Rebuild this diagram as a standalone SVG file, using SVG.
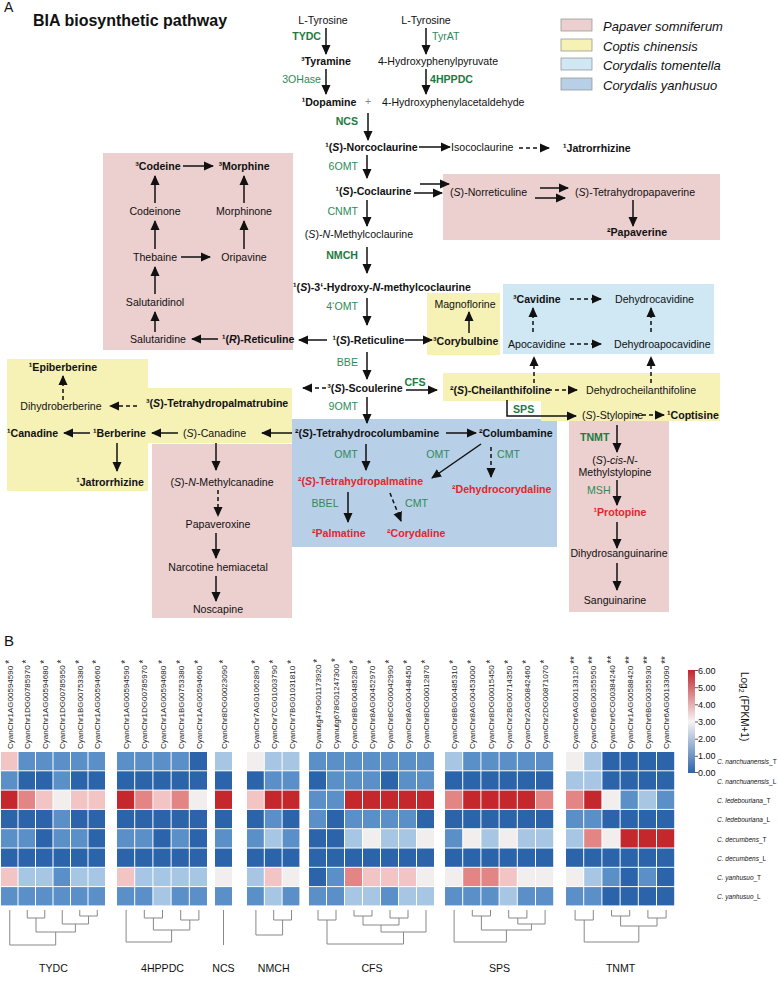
<svg xmlns="http://www.w3.org/2000/svg" width="778" height="982" viewBox="0 0 778 982">
<defs>
<marker id="ah" viewBox="0 0 10 10" refX="9" refY="5" markerWidth="10" markerHeight="10" markerUnits="userSpaceOnUse" orient="auto"><path d="M0,0.5 L10,5 L0,9.5 z" fill="#111"/></marker>
<linearGradient id="cb" x1="0" y1="0" x2="0" y2="1">
<stop offset="0" stop-color="#c0262b"/><stop offset="0.5" stop-color="#f7f4f4"/><stop offset="1" stop-color="#2c64ab"/>
</linearGradient>
<style>
text{font-family:'Liberation Sans',Arial,sans-serif;font-size:10.6px;fill:#111}
.b{font-weight:bold}
.g{fill:#2e8b57}
.gb{fill:#1e7a40;font-weight:bold}
.r{fill:#e3262b;font-weight:bold}
.i{font-style:italic}
.m{text-anchor:middle}
.e{text-anchor:end}
.ln{stroke:#111;stroke-width:1.5;fill:none}
.a{marker-end:url(#ah)}
.d{stroke-dasharray:4,3}
.pk{fill:#eccfcf}
.yl{fill:#f6f2b6}
.lb{fill:#cfe8f4}
.bl{fill:#b7cfe7}
.leg{font-size:13px;font-style:italic}
.gl{font-size:8px;fill:#222}
.st{font-size:10px}
.rl{font-size:6.5px}
.cl{font-size:9px}
.h0{fill:#2c64ab}.h1{fill:#5a8fc7}.h2{fill:#a7c6e3}.h3{fill:#f3eeee}.h4{fill:#f2c4c4}.h5{fill:#e38585}.h6{fill:#c4282c}
.dg{stroke:#888;stroke-width:1;fill:none}
</style>
</defs>
<rect width="778" height="982" fill="#fff"/>

<g id="regions">
<rect class="pk" x="103" y="153" width="190" height="197"/>
<rect class="pk" x="443" y="174" width="277" height="66"/>
<rect class="yl" x="427" y="293" width="73" height="62"/>
<rect class="lb" x="503" y="284" width="211" height="70"/>
<rect class="yl" x="7" y="359" width="141" height="132"/>
<rect class="yl" x="148" y="388" width="144" height="55"/>
<rect class="pk" x="152" y="444" width="140" height="174"/>
<rect class="bl" x="292" y="419" width="265" height="128"/>
<rect class="yl" x="443" y="373" width="277" height="28"/>
<rect class="yl" x="541" y="401" width="179" height="20"/>
<rect class="pk" x="569" y="421" width="100" height="191"/>
</g>

<g id="title">
<text x="4" y="12" style="font-size:14px">A</text>
<text x="33" y="26" class="b" style="font-size:16px">BIA biosynthetic pathway</text>
</g>

<g id="legend">
<rect class="pk" x="561" y="19" width="31" height="12" stroke="#999" stroke-width="0.8"/>
<rect class="yl" x="561" y="39" width="31" height="12" stroke="#999" stroke-width="0.8"/>
<rect class="lb" x="561" y="58" width="31" height="12" stroke="#999" stroke-width="0.8"/>
<rect class="bl" x="561" y="78" width="31" height="12" stroke="#999" stroke-width="0.8"/>
<text class="leg" x="603" y="31">Papaver somniferum</text>
<text class="leg" x="603" y="51">Coptis chinensis</text>
<text class="leg" x="603" y="70">Corydalis tomentella</text>
<text class="leg" x="603" y="90">Corydalis yanhusuo</text>
</g>

<g id="connectors">
<path class="ln a" d="M326,28 V54"/>
<path class="ln a" d="M426,28 V54"/>
<path class="ln a" d="M326,69 V94"/>
<path class="ln a" d="M426,69 V94"/>
<path class="ln a" d="M368,113 V140"/>
<path class="ln a" d="M419,147 H450"/>
<path class="ln a d" d="M519,148 H549"/>
<path class="ln a" d="M367,155 V178"/>
<path class="ln a" d="M420,184 H449"/>
<path class="ln a" d="M414,193 H442"/>
<path class="ln a" d="M540,188 H568"/>
<path class="ln a" d="M535,198 H565"/>
<path class="ln a" d="M633,200 V226"/>
<path class="ln a" d="M367,200 V226"/>
<path class="ln a" d="M367,247 V273"/>
<path class="ln a" d="M367,298 V325"/>
<path class="ln a" d="M183,166 H213"/>
<path class="ln a" d="M155,203 V176"/>
<path class="ln a" d="M244,203 V176"/>
<path class="ln a" d="M155,249 V221"/>
<path class="ln a" d="M244,249 V221"/>
<path class="ln a" d="M181,257 H210"/>
<path class="ln a" d="M155,294 V267"/>
<path class="ln a" d="M155,332 V312"/>
<path class="ln a" d="M218,339 H192"/>
<path class="ln a" d="M327,340 H299"/>
<path class="ln a" d="M405,340 H432"/>
<path class="ln a" d="M469,333 V312"/>
<path class="ln a d" d="M570,299 H601"/>
<path class="ln a d" d="M570,344 H601"/>
<path class="ln a d" d="M533,332 V308"/>
<path class="ln a d" d="M651,332 V308"/>
<path class="ln a d" d="M534,383 V357"/>
<path class="ln a d" d="M651,383 V357"/>
<path class="ln a" d="M367,352 V379"/>
<path class="ln a d" d="M326,388 H303"/>
<path class="ln a" d="M406,390 H437"/>
<path class="ln a d" d="M548,390 H577"/>
<path class="ln a" d="M507,400 V416 H576"/>
<path class="ln a d" d="M635,415 H664"/>
<path class="ln a" d="M367,397 V423"/>
<path class="ln a d" d="M137,406 H110"/>
<path class="ln a d" d="M63,400 V376"/>
<path class="ln a" d="M90,433 H64"/>
<path class="ln a" d="M178,433 H152"/>
<path class="ln a" d="M292,433 H262"/>
<path class="ln a" d="M117,443 V471"/>
<path class="ln a" d="M216,443 V470"/>
<path class="ln a d" d="M218,490 V516"/>
<path class="ln a" d="M216,533 V558"/>
<path class="ln a" d="M216,576 V601"/>
<path class="ln a" d="M446,433 H476"/>
<path class="ln a" d="M366,444 V470"/>
<path class="ln a" d="M481,444 L432,478"/>
<path class="ln a d" d="M491,447 V477"/>
<path class="ln a" d="M348,492 V522"/>
<path class="ln a d" d="M390,493 L401,521"/>
<path class="ln a" d="M617,425 V452"/>
<path class="ln a" d="M617,480 V505"/>
<path class="ln a" d="M617,522 V548"/>
<path class="ln a" d="M617,563 V590"/>
</g>

<g id="n_tyr1"><text class="m" x="323" y="24">L-Tyrosine</text></g>
<g id="n_tyr2"><text class="m" x="426" y="24">L-Tyrosine</text></g>
<g id="e_tydc"><text class="gb e" x="321" y="40">TYDC</text></g>
<g id="e_tyrat"><text class="g" x="432" y="40">TyrAT</text></g>
<g id="n_tyramine"><text class="b m" x="326" y="65">³Tyramine</text></g>
<g id="n_hpp"><text class="m" x="438" y="65">4-Hydroxyphenylpyruvate</text></g>
<g id="e_3ohase"><text class="g e" x="321" y="83">3OHase</text></g>
<g id="e_4hppdc"><text class="gb" x="430" y="83">4HPPDC</text></g>
<g id="n_dopamine"><text class="b m" x="329" y="106">¹Dopamine</text></g>
<g id="plus"><text class="m" x="368" y="105" style="fill:#888">+</text></g>
<g id="n_hpaa"><text x="382" y="106">4-Hydroxyphenylacetaldehyde</text></g>
<g id="e_ncs"><text class="gb e" x="358" y="125">NCS</text></g>
<g id="n_norcoc"><text class="b m" x="371.5" y="151">¹(<tspan class="i">S</tspan>)-Norcoclaurine</text></g>
<g id="n_isococ"><text x="451" y="151">Isococlaurine</text></g>
<g id="n_jat1"><text class="b" x="563" y="152">¹Jatrorrhizine</text></g>
<g id="e_6omt"><text class="g e" x="358" y="170">6OMT</text></g>
<g id="n_coc"><text class="b m" x="373.5" y="195">¹(<tspan class="i">S</tspan>)-Coclaurine</text></g>
<g id="e_cnmt"><text class="g e" x="358" y="215">CNMT</text></g>
<g id="n_nmc"><text class="m" x="359" y="238">(<tspan class="i">S</tspan>)-<tspan class="i">N</tspan>-Methylcoclaurine</text></g>
<g id="e_nmch"><text class="gb e" x="358" y="259">NMCH</text></g>
<g id="n_hydroxy"><text class="b m" x="382" y="291">¹(<tspan class="i">S</tspan>)-3‘-Hydroxy-<tspan class="i">N</tspan>-methylcoclaurine</text></g>
<g id="e_4omt"><text class="g e" x="358" y="310">4‘OMT</text></g>
<g id="n_sret"><text class="b m" x="368.5" y="344">¹(<tspan class="i">S</tspan>)-Reticuline</text></g>
<g id="e_bbe"><text class="g e" x="358" y="366">BBE</text></g>
<g id="n_scoul"><text class="b m" x="365" y="392">³(<tspan class="i">S</tspan>)-Scoulerine</text></g>
<g id="e_cfs"><text class="gb m" x="415" y="386">CFS</text></g>
<g id="e_9omt"><text class="g e" x="358" y="410">9OMT</text></g>
<g id="n_thc"><text class="b" x="295" y="437">²(<tspan class="i">S</tspan>)-Tetrahydrocolumbamine</text></g>
<g id="n_colum"><text class="b" x="479" y="437">²Columbamine</text></g>
<g id="e_omt1"><text class="g m" x="346" y="458">OMT</text></g>
<g id="e_omt2"><text class="g m" x="438" y="458">OMT</text></g>
<g id="e_cmt1"><text class="g" x="497" y="458">CMT</text></g>
<g id="n_thp"><text class="r" x="298" y="485">²(<tspan class="i">S</tspan>)-Tetrahydropalmatine</text></g>
<g id="n_dhc"><text class="r" x="452" y="493">²Dehydrocorydaline</text></g>
<g id="e_bbel"><text class="g m" x="325" y="507">BBEL</text></g>
<g id="e_cmt2"><text class="g" x="405" y="507">CMT</text></g>
<g id="n_palm"><text class="r" x="312" y="537">²Palmatine</text></g>
<g id="n_cory"><text class="r" x="387" y="537">²Corydaline</text></g>

<g id="n_codeine"><text class="b m" x="158" y="170">³Codeine</text></g>
<g id="n_morphine"><text class="b m" x="244" y="170">³Morphine</text></g>
<g id="n_codeinone"><text class="m" x="155" y="215">Codeinone</text></g>
<g id="n_morphinone"><text class="m" x="244" y="215">Morphinone</text></g>
<g id="n_thebaine"><text class="m" x="155" y="261">Thebaine</text></g>
<g id="n_oripavine"><text class="m" x="244" y="261">Oripavine</text></g>
<g id="n_salutaridinol"><text class="m" x="155" y="306">Salutaridinol</text></g>
<g id="n_salutaridine"><text class="m" x="158" y="343">Salutaridine</text></g>
<g id="n_rret"><text class="b" x="222" y="343">¹(<tspan class="i">R</tspan>)-Reticuline</text></g>

<g id="n_norret"><text x="450" y="196">(<tspan class="i">S</tspan>)-Norreticuline</text></g>
<g id="n_thpap"><text x="575" y="196">(<tspan class="i">S</tspan>)-Tetrahydropapaverine</text></g>
<g id="n_papav"><text class="b" x="607" y="236">²Papaverine</text></g>

<g id="n_magno"><text class="m" x="465" y="308">Magnoflorine</text></g>
<g id="n_corybul"><text class="b" x="433" y="345">³Corybulbine</text></g>
<g id="n_cavidine"><text class="b" x="513" y="303">³Cavidine</text></g>
<g id="n_dhcav"><text x="615" y="303">Dehydrocavidine</text></g>
<g id="n_apocav"><text x="508" y="348">Apocavidine</text></g>
<g id="n_dhapocav"><text x="614" y="348">Dehydroapocavidine</text></g>

<g id="n_cheil"><text class="b" x="450" y="394">²(<tspan class="i">S</tspan>)-Cheilanthifoline</text></g>
<g id="n_dhcheil"><text x="586" y="394">Dehydrocheilanthifoline</text></g>
<g id="e_sps"><text class="gb" x="513" y="413">SPS</text></g>
<g id="n_stylo"><text x="582" y="419">(<tspan class="i">S</tspan>)-Stylopine</text></g>
<g id="n_coptis"><text class="b" x="667" y="419">¹Coptisine</text></g>

<g id="e_tnmt"><text class="gb" x="580" y="441">TNMT</text></g>
<g id="n_cisnms"><text class="m" x="615" y="464">(<tspan class="i">S</tspan>)-<tspan class="i">cis</tspan>-<tspan class="i">N</tspan>-</text><text class="m" x="615" y="476">Methylstylopine</text></g>
<g id="e_msh"><text class="g" x="587" y="494">MSH</text></g>
<g id="n_protopine"><text class="r m" x="620" y="516">¹Protopine</text></g>
<g id="n_dhsang"><text class="m" x="619" y="557">Dihydrosanguinarine</text></g>
<g id="n_sang"><text class="m" x="615" y="604">Sanguinarine</text></g>

<g id="n_epib"><text class="b m" x="63" y="371">¹Epiberberine</text></g>
<g id="n_dhberb"><text class="m" x="61" y="410">Dihydroberberine</text></g>
<g id="n_thpr"><text class="b" x="146" y="407">³(<tspan class="i">S</tspan>)-Tetrahydropalmatrubine</text></g>
<g id="n_canadine1"><text class="b" x="7" y="437">¹Canadine</text></g>
<g id="n_berb"><text class="b" x="93" y="437">¹Berberine</text></g>
<g id="n_scan"><text x="183" y="437">(<tspan class="i">S</tspan>)-Canadine</text></g>
<g id="n_jat2"><text class="b m" x="110" y="486">¹Jatrorrhizine</text></g>
<g id="n_nmcan"><text class="m" x="222" y="486">(<tspan class="i">S</tspan>)-<tspan class="i">N</tspan>-Methylcanadine</text></g>
<g id="n_papox"><text class="m" x="218" y="528">Papaveroxine</text></g>
<g id="n_narc"><text class="m" x="218" y="571">Narcotine hemiacetal</text></g>
<g id="n_nosc"><text class="m" x="218" y="613">Noscapine</text></g>

<g id="panelB">
<text x="4" y="646" style="font-size:15px">B</text>
<g id="heatmap">
<g transform="translate(1,752)"><rect class="h4" y="0" width="16.5" height="18.3"/><rect class="h1" y="19.3" width="16.5" height="18.3"/><rect class="h6" y="38.6" width="16.5" height="18.3"/><rect class="h0" y="57.9" width="16.5" height="18.3"/><rect class="h1" y="77.2" width="16.5" height="18.3"/><rect class="h0" y="96.5" width="16.5" height="18.3"/><rect class="h4" y="115.8" width="16.5" height="18.3"/><rect class="h1" y="135.1" width="16.5" height="18.3"/></g>
<g transform="translate(18.5,752)"><rect class="h1" y="0" width="16.5" height="18.3"/><rect class="h0" y="19.3" width="16.5" height="18.3"/><rect class="h5" y="38.6" width="16.5" height="18.3"/><rect class="h0" y="57.9" width="16.5" height="18.3"/><rect class="h1" y="77.2" width="16.5" height="18.3"/><rect class="h0" y="96.5" width="16.5" height="18.3"/><rect class="h2" y="115.8" width="16.5" height="18.3"/><rect class="h1" y="135.1" width="16.5" height="18.3"/></g>
<g transform="translate(36,752)"><rect class="h1" y="0" width="16.5" height="18.3"/><rect class="h0" y="19.3" width="16.5" height="18.3"/><rect class="h4" y="38.6" width="16.5" height="18.3"/><rect class="h0" y="57.9" width="16.5" height="18.3"/><rect class="h0" y="77.2" width="16.5" height="18.3"/><rect class="h0" y="96.5" width="16.5" height="18.3"/><rect class="h2" y="115.8" width="16.5" height="18.3"/><rect class="h1" y="135.1" width="16.5" height="18.3"/></g>
<g transform="translate(53.5,752)"><rect class="h1" y="0" width="16.5" height="18.3"/><rect class="h1" y="19.3" width="16.5" height="18.3"/><rect class="h3" y="38.6" width="16.5" height="18.3"/><rect class="h1" y="57.9" width="16.5" height="18.3"/><rect class="h1" y="77.2" width="16.5" height="18.3"/><rect class="h0" y="96.5" width="16.5" height="18.3"/><rect class="h1" y="115.8" width="16.5" height="18.3"/><rect class="h1" y="135.1" width="16.5" height="18.3"/></g>
<g transform="translate(71,752)"><rect class="h1" y="0" width="16.5" height="18.3"/><rect class="h0" y="19.3" width="16.5" height="18.3"/><rect class="h4" y="38.6" width="16.5" height="18.3"/><rect class="h0" y="57.9" width="16.5" height="18.3"/><rect class="h1" y="77.2" width="16.5" height="18.3"/><rect class="h0" y="96.5" width="16.5" height="18.3"/><rect class="h2" y="115.8" width="16.5" height="18.3"/><rect class="h1" y="135.1" width="16.5" height="18.3"/></g>
<g transform="translate(88.5,752)"><rect class="h1" y="0" width="16.5" height="18.3"/><rect class="h0" y="19.3" width="16.5" height="18.3"/><rect class="h4" y="38.6" width="16.5" height="18.3"/><rect class="h0" y="57.9" width="16.5" height="18.3"/><rect class="h0" y="77.2" width="16.5" height="18.3"/><rect class="h0" y="96.5" width="16.5" height="18.3"/><rect class="h2" y="115.8" width="16.5" height="18.3"/><rect class="h1" y="135.1" width="16.5" height="18.3"/></g>

<g transform="translate(117,752)"><rect class="h1" y="0" width="17.2" height="18.3"/><rect class="h0" y="19.3" width="17.2" height="18.3"/><rect class="h6" y="38.6" width="17.2" height="18.3"/><rect class="h0" y="57.9" width="17.2" height="18.3"/><rect class="h1" y="77.2" width="17.2" height="18.3"/><rect class="h0" y="96.5" width="17.2" height="18.3"/><rect class="h4" y="115.8" width="17.2" height="18.3"/><rect class="h1" y="135.1" width="17.2" height="18.3"/></g>
<g transform="translate(135.2,752)"><rect class="h1" y="0" width="17.2" height="18.3"/><rect class="h0" y="19.3" width="17.2" height="18.3"/><rect class="h5" y="38.6" width="17.2" height="18.3"/><rect class="h0" y="57.9" width="17.2" height="18.3"/><rect class="h1" y="77.2" width="17.2" height="18.3"/><rect class="h0" y="96.5" width="17.2" height="18.3"/><rect class="h2" y="115.8" width="17.2" height="18.3"/><rect class="h1" y="135.1" width="17.2" height="18.3"/></g>
<g transform="translate(153.4,752)"><rect class="h1" y="0" width="17.2" height="18.3"/><rect class="h0" y="19.3" width="17.2" height="18.3"/><rect class="h4" y="38.6" width="17.2" height="18.3"/><rect class="h0" y="57.9" width="17.2" height="18.3"/><rect class="h0" y="77.2" width="17.2" height="18.3"/><rect class="h0" y="96.5" width="17.2" height="18.3"/><rect class="h2" y="115.8" width="17.2" height="18.3"/><rect class="h2" y="135.1" width="17.2" height="18.3"/></g>
<g transform="translate(171.6,752)"><rect class="h1" y="0" width="17.2" height="18.3"/><rect class="h0" y="19.3" width="17.2" height="18.3"/><rect class="h5" y="38.6" width="17.2" height="18.3"/><rect class="h0" y="57.9" width="17.2" height="18.3"/><rect class="h1" y="77.2" width="17.2" height="18.3"/><rect class="h0" y="96.5" width="17.2" height="18.3"/><rect class="h2" y="115.8" width="17.2" height="18.3"/><rect class="h1" y="135.1" width="17.2" height="18.3"/></g>
<g transform="translate(189.8,752)"><rect class="h0" y="0" width="17.2" height="18.3"/><rect class="h0" y="19.3" width="17.2" height="18.3"/><rect class="h3" y="38.6" width="17.2" height="18.3"/><rect class="h0" y="57.9" width="17.2" height="18.3"/><rect class="h0" y="77.2" width="17.2" height="18.3"/><rect class="h0" y="96.5" width="17.2" height="18.3"/><rect class="h2" y="115.8" width="17.2" height="18.3"/><rect class="h1" y="135.1" width="17.2" height="18.3"/></g>

<g transform="translate(215,752)"><rect class="h2" y="0" width="17" height="18.3"/><rect class="h0" y="19.3" width="17" height="18.3"/><rect class="h6" y="38.6" width="17" height="18.3"/><rect class="h0" y="57.9" width="17" height="18.3"/><rect class="h1" y="77.2" width="17" height="18.3"/><rect class="h0" y="96.5" width="17" height="18.3"/><rect class="h3" y="115.8" width="17" height="18.3"/><rect class="h1" y="135.1" width="17" height="18.3"/></g>

<g transform="translate(247,752)"><rect class="h3" y="0" width="16.8" height="18.3"/><rect class="h0" y="19.3" width="16.8" height="18.3"/><rect class="h4" y="38.6" width="16.8" height="18.3"/><rect class="h0" y="57.9" width="16.8" height="18.3"/><rect class="h1" y="77.2" width="16.8" height="18.3"/><rect class="h0" y="96.5" width="16.8" height="18.3"/><rect class="h2" y="115.8" width="16.8" height="18.3"/><rect class="h1" y="135.1" width="16.8" height="18.3"/></g>
<g transform="translate(264.8,752)"><rect class="h2" y="0" width="16.8" height="18.3"/><rect class="h1" y="19.3" width="16.8" height="18.3"/><rect class="h6" y="38.6" width="16.8" height="18.3"/><rect class="h1" y="57.9" width="16.8" height="18.3"/><rect class="h2" y="77.2" width="16.8" height="18.3"/><rect class="h0" y="96.5" width="16.8" height="18.3"/><rect class="h4" y="115.8" width="16.8" height="18.3"/><rect class="h2" y="135.1" width="16.8" height="18.3"/></g>
<g transform="translate(282.6,752)"><rect class="h2" y="0" width="16.8" height="18.3"/><rect class="h1" y="19.3" width="16.8" height="18.3"/><rect class="h6" y="38.6" width="16.8" height="18.3"/><rect class="h0" y="57.9" width="16.8" height="18.3"/><rect class="h1" y="77.2" width="16.8" height="18.3"/><rect class="h0" y="96.5" width="16.8" height="18.3"/><rect class="h3" y="115.8" width="16.8" height="18.3"/><rect class="h1" y="135.1" width="16.8" height="18.3"/></g>

<g transform="translate(309,752)"><rect class="h1" y="0" width="17" height="18.3"/><rect class="h0" y="19.3" width="17" height="18.3"/><rect class="h1" y="38.6" width="17" height="18.3"/><rect class="h1" y="57.9" width="17" height="18.3"/><rect class="h0" y="77.2" width="17" height="18.3"/><rect class="h0" y="96.5" width="17" height="18.3"/><rect class="h0" y="115.8" width="17" height="18.3"/><rect class="h1" y="135.1" width="17" height="18.3"/></g>
<g transform="translate(327,752)"><rect class="h1" y="0" width="17" height="18.3"/><rect class="h1" y="19.3" width="17" height="18.3"/><rect class="h1" y="38.6" width="17" height="18.3"/><rect class="h0" y="57.9" width="17" height="18.3"/><rect class="h0" y="77.2" width="17" height="18.3"/><rect class="h0" y="96.5" width="17" height="18.3"/><rect class="h1" y="115.8" width="17" height="18.3"/><rect class="h1" y="135.1" width="17" height="18.3"/></g>
<g transform="translate(345,752)"><rect class="h1" y="0" width="17" height="18.3"/><rect class="h1" y="19.3" width="17" height="18.3"/><rect class="h6" y="38.6" width="17" height="18.3"/><rect class="h1" y="57.9" width="17" height="18.3"/><rect class="h2" y="77.2" width="17" height="18.3"/><rect class="h0" y="96.5" width="17" height="18.3"/><rect class="h5" y="115.8" width="17" height="18.3"/><rect class="h2" y="135.1" width="17" height="18.3"/></g>
<g transform="translate(363,752)"><rect class="h1" y="0" width="17" height="18.3"/><rect class="h1" y="19.3" width="17" height="18.3"/><rect class="h6" y="38.6" width="17" height="18.3"/><rect class="h1" y="57.9" width="17" height="18.3"/><rect class="h3" y="77.2" width="17" height="18.3"/><rect class="h0" y="96.5" width="17" height="18.3"/><rect class="h4" y="115.8" width="17" height="18.3"/><rect class="h2" y="135.1" width="17" height="18.3"/></g>
<g transform="translate(381,752)"><rect class="h1" y="0" width="17" height="18.3"/><rect class="h0" y="19.3" width="17" height="18.3"/><rect class="h6" y="38.6" width="17" height="18.3"/><rect class="h1" y="57.9" width="17" height="18.3"/><rect class="h2" y="77.2" width="17" height="18.3"/><rect class="h0" y="96.5" width="17" height="18.3"/><rect class="h4" y="115.8" width="17" height="18.3"/><rect class="h1" y="135.1" width="17" height="18.3"/></g>
<g transform="translate(399,752)"><rect class="h1" y="0" width="17" height="18.3"/><rect class="h1" y="19.3" width="17" height="18.3"/><rect class="h6" y="38.6" width="17" height="18.3"/><rect class="h1" y="57.9" width="17" height="18.3"/><rect class="h2" y="77.2" width="17" height="18.3"/><rect class="h0" y="96.5" width="17" height="18.3"/><rect class="h4" y="115.8" width="17" height="18.3"/><rect class="h2" y="135.1" width="17" height="18.3"/></g>
<g transform="translate(417,752)"><rect class="h1" y="0" width="17" height="18.3"/><rect class="h1" y="19.3" width="17" height="18.3"/><rect class="h6" y="38.6" width="17" height="18.3"/><rect class="h0" y="57.9" width="17" height="18.3"/><rect class="h3" y="77.2" width="17" height="18.3"/><rect class="h0" y="96.5" width="17" height="18.3"/><rect class="h3" y="115.8" width="17" height="18.3"/><rect class="h2" y="135.1" width="17" height="18.3"/></g>

<g transform="translate(445,752)"><rect class="h2" y="0" width="17.2" height="18.3"/><rect class="h0" y="19.3" width="17.2" height="18.3"/><rect class="h5" y="38.6" width="17.2" height="18.3"/><rect class="h0" y="57.9" width="17.2" height="18.3"/><rect class="h1" y="77.2" width="17.2" height="18.3"/><rect class="h0" y="96.5" width="17.2" height="18.3"/><rect class="h3" y="115.8" width="17.2" height="18.3"/><rect class="h1" y="135.1" width="17.2" height="18.3"/></g>
<g transform="translate(463.2,752)"><rect class="h1" y="0" width="17.2" height="18.3"/><rect class="h0" y="19.3" width="17.2" height="18.3"/><rect class="h6" y="38.6" width="17.2" height="18.3"/><rect class="h0" y="57.9" width="17.2" height="18.3"/><rect class="h3" y="77.2" width="17.2" height="18.3"/><rect class="h0" y="96.5" width="17.2" height="18.3"/><rect class="h5" y="115.8" width="17.2" height="18.3"/><rect class="h1" y="135.1" width="17.2" height="18.3"/></g>
<g transform="translate(481.4,752)"><rect class="h1" y="0" width="17.2" height="18.3"/><rect class="h0" y="19.3" width="17.2" height="18.3"/><rect class="h6" y="38.6" width="17.2" height="18.3"/><rect class="h0" y="57.9" width="17.2" height="18.3"/><rect class="h2" y="77.2" width="17.2" height="18.3"/><rect class="h0" y="96.5" width="17.2" height="18.3"/><rect class="h5" y="115.8" width="17.2" height="18.3"/><rect class="h1" y="135.1" width="17.2" height="18.3"/></g>
<g transform="translate(499.6,752)"><rect class="h1" y="0" width="17.2" height="18.3"/><rect class="h0" y="19.3" width="17.2" height="18.3"/><rect class="h6" y="38.6" width="17.2" height="18.3"/><rect class="h0" y="57.9" width="17.2" height="18.3"/><rect class="h3" y="77.2" width="17.2" height="18.3"/><rect class="h0" y="96.5" width="17.2" height="18.3"/><rect class="h4" y="115.8" width="17.2" height="18.3"/><rect class="h2" y="135.1" width="17.2" height="18.3"/></g>
<g transform="translate(517.8,752)"><rect class="h1" y="0" width="17.2" height="18.3"/><rect class="h0" y="19.3" width="17.2" height="18.3"/><rect class="h6" y="38.6" width="17.2" height="18.3"/><rect class="h0" y="57.9" width="17.2" height="18.3"/><rect class="h2" y="77.2" width="17.2" height="18.3"/><rect class="h0" y="96.5" width="17.2" height="18.3"/><rect class="h3" y="115.8" width="17.2" height="18.3"/><rect class="h1" y="135.1" width="17.2" height="18.3"/></g>
<g transform="translate(536,752)"><rect class="h1" y="0" width="17.2" height="18.3"/><rect class="h0" y="19.3" width="17.2" height="18.3"/><rect class="h5" y="38.6" width="17.2" height="18.3"/><rect class="h0" y="57.9" width="17.2" height="18.3"/><rect class="h2" y="77.2" width="17.2" height="18.3"/><rect class="h0" y="96.5" width="17.2" height="18.3"/><rect class="h3" y="115.8" width="17.2" height="18.3"/><rect class="h1" y="135.1" width="17.2" height="18.3"/></g>

<g transform="translate(566,752)"><rect class="h3" y="0" width="17.2" height="18.3"/><rect class="h2" y="19.3" width="17.2" height="18.3"/><rect class="h5" y="38.6" width="17.2" height="18.3"/><rect class="h1" y="57.9" width="17.2" height="18.3"/><rect class="h2" y="77.2" width="17.2" height="18.3"/><rect class="h0" y="96.5" width="17.2" height="18.3"/><rect class="h3" y="115.8" width="17.2" height="18.3"/><rect class="h1" y="135.1" width="17.2" height="18.3"/></g>
<g transform="translate(584.2,752)"><rect class="h2" y="0" width="17.2" height="18.3"/><rect class="h2" y="19.3" width="17.2" height="18.3"/><rect class="h6" y="38.6" width="17.2" height="18.3"/><rect class="h1" y="57.9" width="17.2" height="18.3"/><rect class="h5" y="77.2" width="17.2" height="18.3"/><rect class="h0" y="96.5" width="17.2" height="18.3"/><rect class="h2" y="115.8" width="17.2" height="18.3"/><rect class="h1" y="135.1" width="17.2" height="18.3"/></g>
<g transform="translate(602.4,752)"><rect class="h0" y="0" width="17.2" height="18.3"/><rect class="h0" y="19.3" width="17.2" height="18.3"/><rect class="h3" y="38.6" width="17.2" height="18.3"/><rect class="h0" y="57.9" width="17.2" height="18.3"/><rect class="h3" y="77.2" width="17.2" height="18.3"/><rect class="h0" y="96.5" width="17.2" height="18.3"/><rect class="h1" y="115.8" width="17.2" height="18.3"/><rect class="h0" y="135.1" width="17.2" height="18.3"/></g>
<g transform="translate(620.6,752)"><rect class="h0" y="0" width="17.2" height="18.3"/><rect class="h0" y="19.3" width="17.2" height="18.3"/><rect class="h1" y="38.6" width="17.2" height="18.3"/><rect class="h0" y="57.9" width="17.2" height="18.3"/><rect class="h6" y="77.2" width="17.2" height="18.3"/><rect class="h0" y="96.5" width="17.2" height="18.3"/><rect class="h0" y="115.8" width="17.2" height="18.3"/><rect class="h0" y="135.1" width="17.2" height="18.3"/></g>
<g transform="translate(638.8,752)"><rect class="h0" y="0" width="17.2" height="18.3"/><rect class="h0" y="19.3" width="17.2" height="18.3"/><rect class="h2" y="38.6" width="17.2" height="18.3"/><rect class="h0" y="57.9" width="17.2" height="18.3"/><rect class="h6" y="77.2" width="17.2" height="18.3"/><rect class="h0" y="96.5" width="17.2" height="18.3"/><rect class="h1" y="115.8" width="17.2" height="18.3"/><rect class="h0" y="135.1" width="17.2" height="18.3"/></g>
<g transform="translate(657,752)"><rect class="h0" y="0" width="17.2" height="18.3"/><rect class="h0" y="19.3" width="17.2" height="18.3"/><rect class="h1" y="38.6" width="17.2" height="18.3"/><rect class="h0" y="57.9" width="17.2" height="18.3"/><rect class="h6" y="77.2" width="17.2" height="18.3"/><rect class="h0" y="96.5" width="17.2" height="18.3"/><rect class="h0" y="115.8" width="17.2" height="18.3"/><rect class="h0" y="135.1" width="17.2" height="18.3"/></g>
</g>

<g id="gene_labels">
<text class="gl" transform="translate(12.5,749) rotate(-90)">CyanChr1AG00594590<tspan class="st" dx="2">*</tspan></text>
<text class="gl" transform="translate(30,749) rotate(-90)">CyanChr1DG00785970<tspan class="st" dx="2">*</tspan></text>
<text class="gl" transform="translate(47.5,749) rotate(-90)">CyanChr1AG00594680<tspan class="st" dx="2">*</tspan></text>
<text class="gl" transform="translate(65,749) rotate(-90)">CyanChr1DG00785950<tspan class="st" dx="2">*</tspan></text>
<text class="gl" transform="translate(82.5,749) rotate(-90)">CyanChr1BG00753380<tspan class="st" dx="2">*</tspan></text>
<text class="gl" transform="translate(100,749) rotate(-90)">CyanChr1AG00594660<tspan class="st" dx="2">*</tspan></text>
<text class="gl" transform="translate(129.1,749) rotate(-90)">CyanChr1AG00594590<tspan class="st" dx="2">*</tspan></text>
<text class="gl" transform="translate(147.3,749) rotate(-90)">CyanChr1DG00785970<tspan class="st" dx="2">*</tspan></text>
<text class="gl" transform="translate(165.5,749) rotate(-90)">CyanChr1AG00594680<tspan class="st" dx="2">*</tspan></text>
<text class="gl" transform="translate(183.7,749) rotate(-90)">CyanChr1BG00753380<tspan class="st" dx="2">*</tspan></text>
<text class="gl" transform="translate(201.9,749) rotate(-90)">CyanChr1AG00594660<tspan class="st" dx="2">*</tspan></text>
<text class="gl" transform="translate(227,749) rotate(-90)">CyanChr8DG00023090<tspan class="st" dx="2">*</tspan></text>
<text class="gl" transform="translate(258.9,749) rotate(-90)">CyanChr7AG01062890<tspan class="st" dx="2">*</tspan></text>
<text class="gl" transform="translate(276.7,749) rotate(-90)">CyanChr7CG01003790<tspan class="st" dx="2">*</tspan></text>
<text class="gl" transform="translate(294.5,749) rotate(-90)">CyanChr7BG01031810<tspan class="st" dx="2">*</tspan></text>
<text class="gl" transform="translate(321,749) rotate(-90)">Cyanutg479G01173920<tspan class="st" dx="2">*</tspan></text>
<text class="gl" transform="translate(339,749) rotate(-90)">Cyanutg678G01247300<tspan class="st" dx="2">*</tspan></text>
<text class="gl" transform="translate(357,749) rotate(-90)">CyanChr8BG00485280<tspan class="st" dx="2">*</tspan></text>
<text class="gl" transform="translate(375,749) rotate(-90)">CyanChr8AG00452970<tspan class="st" dx="2">*</tspan></text>
<text class="gl" transform="translate(393,749) rotate(-90)">CyanChr8CG00042990<tspan class="st" dx="2">*</tspan></text>
<text class="gl" transform="translate(411,749) rotate(-90)">CyanChr8AG00448450<tspan class="st" dx="2">*</tspan></text>
<text class="gl" transform="translate(429,749) rotate(-90)">CyanChr8DG00012870<tspan class="st" dx="2">*</tspan></text>
<text class="gl" transform="translate(457.1,749) rotate(-90)">CyanChr8BG00485310<tspan class="st" dx="2">*</tspan></text>
<text class="gl" transform="translate(475.3,749) rotate(-90)">CyanChr8AG00453000<tspan class="st" dx="2">*</tspan></text>
<text class="gl" transform="translate(493.5,749) rotate(-90)">CyanChr8DG00015450<tspan class="st" dx="2">*</tspan></text>
<text class="gl" transform="translate(511.7,749) rotate(-90)">CyanChr2BG00714350<tspan class="st" dx="2">*</tspan></text>
<text class="gl" transform="translate(529.9,749) rotate(-90)">CyanChr2AG00842460<tspan class="st" dx="2">*</tspan></text>
<text class="gl" transform="translate(548.1,749) rotate(-90)">CyanChr2DG00871070<tspan class="st" dx="2">*</tspan></text>
<text class="gl" transform="translate(578.1,749) rotate(-90)">CyanChr6AG00133120<tspan class="st" dx="2">**</tspan></text>
<text class="gl" transform="translate(596.3,749) rotate(-90)">CyanChr6BG00355950<tspan class="st" dx="2">**</tspan></text>
<text class="gl" transform="translate(614.5,749) rotate(-90)">CyanChr6CG00384240<tspan class="st" dx="2">**</tspan></text>
<text class="gl" transform="translate(632.7,749) rotate(-90)">CyanChr1AG00588420<tspan class="st" dx="2">**</tspan></text>
<text class="gl" transform="translate(650.9,749) rotate(-90)">CyanChr6BG00355930<tspan class="st" dx="2">**</tspan></text>
<text class="gl" transform="translate(669.1,749) rotate(-90)">CyanChr6AG00133090<tspan class="st" dx="2">**</tspan></text>
</g>

<g id="colorbar">
<rect x="688" y="670" width="7" height="103" fill="url(#cb)"/>
<path d="M695,670.5h3M695,687.7h3M695,704.8h3M695,722h3M695,739.2h3M695,756.3h3M695,772.5h3" stroke="#333" stroke-width="0.8"/>
<text class="cl" x="698" y="674">6.00</text>
<text class="cl" x="698" y="691">5.00</text>
<text class="cl" x="698" y="708">4.00</text>
<text class="cl" x="698" y="725">3.00</text>
<text class="cl" x="698" y="742">2.00</text>
<text class="cl" x="698" y="759">1.00</text>
<text class="cl" x="698" y="776">0.00</text>
<text transform="translate(741,672) rotate(90)" style="font-size:10px">Log<tspan style="font-size:7px" dy="2">2</tspan><tspan dy="-2"> (FPKM+1)</tspan></text>
</g>

<g id="row_labels">
<text class="rl" x="717" y="764"><tspan class="i">C. nanchuanensis</tspan>_T</text>
<text class="rl" x="717" y="784"><tspan class="i">C. nanchuanensis</tspan>_L</text>
<text class="rl" x="717" y="803"><tspan class="i">C. ledebouriana</tspan>_T</text>
<text class="rl" x="717" y="822"><tspan class="i">C. ledebouriana</tspan>_L</text>
<text class="rl" x="717" y="842"><tspan class="i">C. decumbens</tspan>_T</text>
<text class="rl" x="717" y="861"><tspan class="i">C. decumbens</tspan>_L</text>
<text class="rl" x="717" y="880"><tspan class="i">C. yanhusuo</tspan>_T</text>
<text class="rl" x="717" y="899"><tspan class="i">C. yanhusuo</tspan>_L</text>
</g>

<g id="dendrograms">
<path class="dg" d="M27.25,910V918H44.75V910M79.75,910V916H97.25V910M62.25,910V924H88.5V916M36,918V932H75.4V924M9.75,910V945H55.7V932"/>
<path class="dg" d="M144.3,910V918H162.5V910M180.7,910V920H198.9V910M153.4,918V930H189.8V920M126.1,910V942H171.6V930"/>
<path class="dg" d="M223.5,910V945"/>
<path class="dg" d="M273.7,910V920H291.5V910M255.9,910V935H282.6V920"/>
<path class="dg" d="M318,910V920H336V910M354,910V916H372V910M390,910V918H408V910M363,916V925H399V918M381,925V932H426V910M327,920V944H403.5V932"/>
<path class="dg" d="M472.3,910V916H490.5V910M508.7,910V918H526.9V910M517.8,918V924H545.1V910M481.4,916V930H531.45V924M454.1,910V942H506.4V930"/>
<path class="dg" d="M575.1,910V920H593.3V910M611.5,910V916H629.7V910M647.9,910V918H666.1V910M620.6,916V926H657V918M584.2,920V942H638.8V926"/>
</g>
<g id="group_labels">
<text class="m" x="53.5" y="972">TYDC</text>
<text class="m" x="162.5" y="972">4HPPDC</text>
<text class="m" x="223.5" y="972">NCS</text>
<text class="m" x="273.7" y="972">NMCH</text>
<text class="m" x="372" y="972">CFS</text>
<text class="m" x="499.6" y="972">SPS</text>
<text class="m" x="620.6" y="972">TNMT</text>
</g>
</g>
</svg>
